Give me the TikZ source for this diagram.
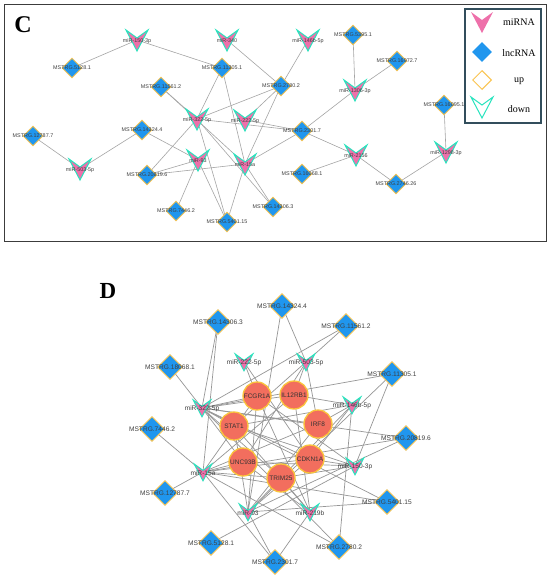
\documentclass[tikz,border=0pt]{standalone}
\usepackage{fontspec}
\setmainfont{Liberation Serif}
\newfontfamily\labfont{Liberation Sans}
\usetikzlibrary{shapes.geometric}
\definecolor{mirpink}{RGB}{238,112,170}
\definecolor{mirborder}{RGB}{40,228,190}
\definecolor{lncblue}{RGB}{32,150,238}
\definecolor{uporange}{RGB}{250,196,80}
\definecolor{mrnared}{RGB}{242,110,94}
\definecolor{mrnaborder}{RGB}{250,196,60}
\definecolor{edgegray}{RGB}{165,165,165}
\definecolor{edgegrayD}{RGB}{150,150,150}
\definecolor{framegray}{RGB}{60,60,60}
\definecolor{legframe}{RGB}{50,78,92}
\tikzset{
 edge/.style={draw=edgegray, line width=0.6pt},
 edgeD/.style={draw=edgegrayD, line width=0.7pt},
 lncC/.style={diamond, fill=lncblue, draw=uporange, line width=0.9pt, minimum width=20pt, minimum height=20pt, inner sep=0pt},
 lncD/.style={lncC, minimum width=25pt, minimum height=25pt},
 mrna/.style={circle, fill=mrnared, draw=mrnaborder, line width=1.3pt, minimum size=28pt, inner sep=0pt, font=\labfont\fontsize{6.5}{7}\selectfont, text=black!80},
 labC/.style={font=\labfont\fontsize{5.4}{6}\selectfont, text=black!75, inner sep=0pt},
 labD/.style={font=\labfont\fontsize{6.6}{7}\selectfont, text=black!75, inner sep=0pt},
 legtext/.style={font=\fontsize{10}{12}\selectfont, text=black},
 pics/mirV/.style={code={\filldraw[fill=mirpink, draw=mirborder, line width=1pt, line join=miter] (-11,-10) -- (0,-2) -- (11,-10) -- (0,11) -- cycle;}},
}
\begin{document}
\begin{tikzpicture}[x=1pt,y=-1pt]
\useasboundingbox[fill=white] (0,0) rectangle (550,581);
% ================= Panel C =================
\draw[framegray, line width=1pt] (4,4) rectangle (546,241);
\node[font=\bfseries\fontsize{24}{26}\selectfont] (letC) at (23,25) {C};
% coordinates
\foreach \n/\x/\y in {c150/137/40, c340/227/40, c146/308/40, cL5128/72/68, cL11305/222/68,
  cL11561/161/87, cL2780/281/86, cL5395/353/35, cL16972/397/61, c1306/355/90, cL16095/444/105,
  c1298/446/152, cL2301/302/131, c2156/356/155, cL16068/302/174, cL2746/396/184, cL14306/273/207,
  cL12787/33/136, c503/80/169, cL14324/142/130, c322/197/119, c222/245/120, c93/198/160,
  c15a/245/164, cL20819/147/175, cL7446/176/211, cL5401/227/222}
  {\coordinate (\n) at (\x,\y);}
% edges C
\foreach \a/\b in {c150/cL5128, c150/cL11305, c340/cL2780, c146/cL2780, cL5395/c1306, cL16972/c1306,
  c1306/cL2301, cL16095/c1298, c1298/cL2746, cL2746/c2156, c2156/cL2301, c2156/cL16068,
  cL11305/c322, cL11305/c15a, cL11561/c322, cL11561/c15a, cL2780/c322, cL2780/c222, cL2780/c15a,
  c322/cL2301, c222/cL2301, c15a/cL2301, cL14324/c503, cL12787/c503, cL14324/c93, c93/cL20819,
  c15a/cL20819, c322/cL20819, c93/cL7446, c93/cL5401, c322/cL5401, c15a/cL5401, c322/cL14306, c15a/cL14306}
  {\draw[edge] (\a) -- (\b);}
% lncRNA nodes C
\foreach \n/\t in {cL5128/MSTRG.5128.1, cL11305/MSTRG.11305.1, cL11561/MSTRG.11561.2, cL2780/MSTRG.2780.2,
  cL5395/MSTRG.5395.1, cL16972/MSTRG.16972.7, cL16095/MSTRG.16095.1, cL2301/MSTRG.2301.7,
  cL16068/MSTRG.16068.1, cL2746/MSTRG.2746.26, cL14306/MSTRG.14306.3, cL12787/MSTRG.12787.7,
  cL14324/MSTRG.14324.4, cL20819/MSTRG.20819.6, cL7446/MSTRG.7446.2, cL5401/MSTRG.5401.15}
  {\node[lncC] (\n-s) at (\n) {}; \node[labC] (\n-t) at (\n) {\t};}
% miRNA nodes C
\foreach \n/\t in {c150/miR-150-3p, c340/miR-340, c146/miR-146b-5p, c1306/miR-1306-3p, c1298/miR-1298-3p,
  c2156/miR-2156, c503/miR-503-5p, c322/miR-322-5p, c222/miR-222-5p, c93/miR-93, c15a/miR-15a}
  {\pic at (\n) {mirV}; \node[labC] (\n-t) at ([yshift=-1pt]\n) {\t};}
% legend
\draw[legframe, line width=1.2pt] (465,9) rectangle (541,123);
\coordinate (legA) at (482,22);
\coordinate (legB) at (482,52);
\coordinate (legC) at (482,80);
\coordinate (legD) at (482,107);
\fill[mirpink] ([shift={(-11,-10)}]legA) -- ([shift={(0,-2)}]legA) -- ([shift={(11,-10)}]legA) -- ([shift={(0,11)}]legA) -- cycle;
\node[diamond, fill=lncblue, minimum width=20pt, minimum height=20pt, inner sep=0pt] (legBs) at (legB) {};
\node[diamond, draw=uporange, line width=1pt, minimum width=19pt, minimum height=19pt, inner sep=0pt] (legCs) at (legC) {};
\draw[mirborder, line width=1pt, line join=miter] ([shift={(-11,-10)}]legD) -- ([shift={(0,-2)}]legD) -- ([shift={(11,-10)}]legD) -- ([shift={(0,11)}]legD) -- cycle;
\node[legtext] (legAt) at (519,22) {miRNA};
\node[legtext] (legBt) at (519,53) {lncRNA};
\node[legtext] (legCt) at (519,81) {up};
\node[legtext] (legDt) at (519,109) {down};
% ================= Panel D =================
\node[font=\bfseries\fontsize{23}{25}\selectfont] (letD) at (108,291) {D};
\foreach \n/\x/\y in {dFCGR/257/396, dIL12/294/395, dSTAT/234/426, dIRF/318/424, dUNC/243/462,
  dCDKN/310/459, dTRIM/281/478, d222/244/362, d503/306/362, d322/202/408, d146/352/405,
  d150/355/466, d15a/203/472, d93/248/512, d219/310/512, dL18068/170/367, dL7446/152/429,
  dL12787/165/493, dL14306/218/322, dL14324/282/306, dL11561/346/326, dL11305/392/374,
  dL20819/406/438, dL5401/387/502, dL2780/339/547, dL2301/275/562, dL5128/211/543}
  {\coordinate (\n) at (\x,\y);}
% edges D: lncRNA - miRNA
\foreach \a/\b in {dL14306/d322, dL14306/d15a, dL14324/d503, dL14324/d93, dL11561/d322, dL11561/d503,
  dL18068/d322, dL7446/d15a, dL12787/d15a, dL5128/d150, dL11305/d150, dL11305/d322, dL11305/d93,
  dL20819/d322, dL20819/d15a, dL20819/d93, dL5401/d93, dL5401/d322, dL5401/d15a, dL2780/d15a,
  dL2780/d146, dL2780/d322, dL2301/d15a, dL2301/d219, dL2301/d93}
  {\draw[edgeD] (\a) -- (\b);}
% edges D: mRNA - miRNA
\foreach \a/\b in {dFCGR/d322, dFCGR/d222, dFCGR/d15a, dFCGR/d150, dFCGR/d219, dFCGR/d93,
  dIL12/d503, dIL12/d322, dIL12/d146, dIL12/d15a, dIL12/d219,
  dSTAT/d322, dSTAT/d503, dSTAT/d146, dSTAT/d150, dSTAT/d93, dSTAT/d219,
  dIRF/d146, dIRF/d322, dIRF/d15a, dIRF/d93, dIRF/d503,
  dUNC/d322, dUNC/d15a, dUNC/d150, dUNC/d219, dUNC/d503,
  dCDKN/d15a, dCDKN/d146, dCDKN/d150, dCDKN/d93, dCDKN/d222, dCDKN/d322,
  dTRIM/d15a, dTRIM/d93, dTRIM/d219, dTRIM/d150, dTRIM/d322, dTRIM/d146}
  {\draw[edgeD] (\a) -- (\b);}
% lncRNA nodes D
\foreach \n/\t in {dL18068/MSTRG.18068.1, dL7446/MSTRG.7446.2, dL12787/MSTRG.12787.7, dL14306/MSTRG.14306.3,
  dL14324/MSTRG.14324.4, dL11561/MSTRG.11561.2, dL11305/MSTRG.11305.1, dL20819/MSTRG.20819.6,
  dL5401/MSTRG.5401.15, dL2780/MSTRG.2780.2, dL2301/MSTRG.2301.7, dL5128/MSTRG.5128.1}
  {\node[lncD] (\n-s) at (\n) {}; \node[labD] (\n-t) at (\n) {\t};}
% miRNA nodes D
\foreach \n/\t in {d222/miR-222-5p, d503/miR-503-5p, d322/miR-322-5p, d146/miR-146b-5p, d150/miR-150-3p,
  d15a/miR-15a, d93/miR-93, d219/miR-219b}
  {\pic[scale=0.8] at (\n) {mirV}; \node[labD] (\n-t) at ([yshift=-1pt]\n) {\t};}
% mRNA nodes D
\foreach \n/\t in {dFCGR/FCGR1A, dIL12/IL12RB1, dSTAT/STAT1, dIRF/IRF8, dUNC/UNC93B, dCDKN/CDKN1A, dTRIM/TRIM25}
  {\node[mrna] (\n-s) at (\n) {\t};}
\end{tikzpicture}
\end{document}
